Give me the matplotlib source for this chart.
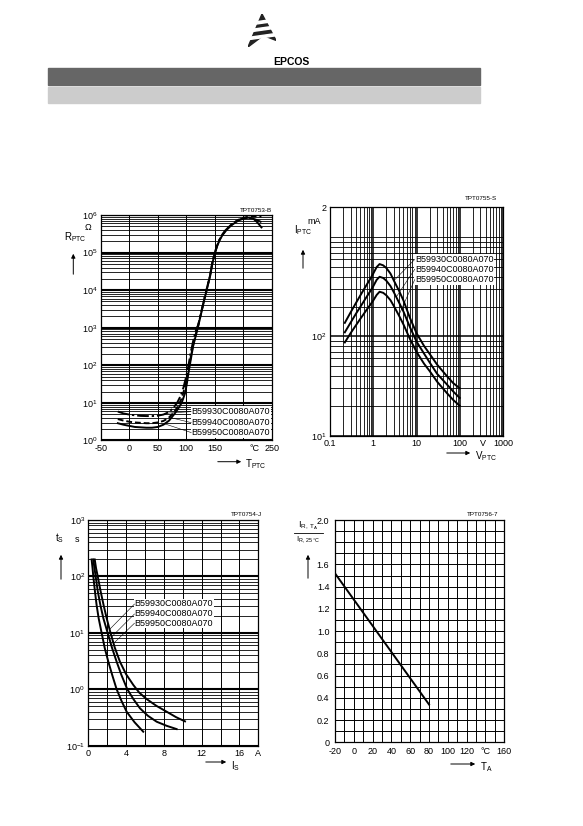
import numpy as np
import matplotlib
matplotlib.use("Agg")
import matplotlib.pyplot as plt
from matplotlib.ticker import FixedLocator, NullFormatter
from matplotlib.patches import Rectangle, Polygon, FancyArrowPatch
from matplotlib.lines import Line2D

plt.rcParams['font.family'] = ['Liberation Sans', 'DejaVu Sans']
plt.rcParams['mathtext.default'] = 'regular'
plt.rcParams['font.size'] = 6.5

W, H = 583, 826

labels = ["B59930C0080A070", "B59940C0080A070", "B59950C0080A070"]

# R/T characteristic: T in degC, log10(R / ohm)
t_930 = [-20, -10, 0, 10, 20, 30, 40, 50, 60, 70, 78, 84, 90, 95, 100, 104, 108,
         113, 118, 121, 132, 142, 146, 150, 154, 158, 163, 170, 178, 186, 194,
         202, 210, 218, 225, 232]
lr_930 = [0.77, 0.72, 0.69, 0.67, 0.655, 0.65, 0.65, 0.66, 0.69, 0.76, 0.88, 1.0,
          1.18, 1.4, 1.7, 2.0, 2.35, 2.7, 2.98, 3.07, 3.78, 4.4, 4.74, 4.98, 5.18,
          5.33, 5.47, 5.61, 5.73, 5.82, 5.88, 5.92, 5.93, 5.9, 5.86, 5.81]
t_940 = [-20, -10, 0, 10, 20, 30, 40, 50, 60, 69, 78, 86, 92, 97, 101, 105, 109,
         113, 118, 121, 132, 142, 146, 150, 154, 158, 163, 170, 178, 186, 194,
         202, 210, 218, 225, 232]
lr_940 = [0.57, 0.53, 0.5, 0.48, 0.47, 0.46, 0.46, 0.48, 0.52, 0.6, 0.74, 0.92,
          1.12, 1.38, 1.68, 1.98, 2.3, 2.6, 2.9, 3.06, 3.78, 4.4, 4.74, 4.98, 5.18,
          5.33, 5.47, 5.61, 5.73, 5.82, 5.89, 5.93, 5.96, 5.97, 5.97, 5.96]
t_950 = [-20, -10, 0, 10, 20, 30, 40, 50, 60, 70, 80, 86, 92, 98, 101, 104, 112,
         121, 132, 142, 146, 150, 154, 158, 163, 170, 178, 186, 194, 202, 210,
         218, 225, 232]
lr_950 = [0.46, 0.42, 0.39, 0.36, 0.35, 0.34, 0.34, 0.36, 0.42, 0.53, 0.72, 0.85,
          1.0, 1.26, 1.5, 1.8, 2.5, 3.04, 3.76, 4.38, 4.72, 4.96, 5.16, 5.31, 5.45,
          5.59, 5.71, 5.8, 5.87, 5.91, 5.93, 5.9, 5.8, 5.67]

# I/V characteristic (V, mA)
v_pts = [0.22, 0.3, 0.4, 0.5, 0.7, 0.85, 1.0, 1.2, 1.4, 1.7, 2.0, 2.5, 3, 4, 5,
         7, 10, 15, 20, 30, 50, 70, 100]
i_top = [137, 175, 218, 258, 330, 380, 430, 500, 536, 520, 490, 430, 365, 285,
         230, 155, 108, 80, 67, 52, 40, 34, 30]
i_mid = [110, 138, 170, 198, 250, 285, 320, 372, 399, 388, 365, 322, 278, 217,
         178, 125, 89, 67, 55, 42, 33, 28, 24]
i_bot = [87, 108, 130, 150, 185, 208, 230, 262, 282, 275, 260, 232, 202, 160,
         132, 95, 70, 53, 45, 35, 27, 23, 20]

# switching time (A, s)
is_left = [0.35, 0.45, 0.53, 0.7, 0.88, 1.1, 1.41, 1.75, 2.12, 2.55, 3.0, 3.5,
           4.06, 4.9, 5.82]
ts_left = [200, 140, 100, 55, 31, 18, 10, 5.3, 3.08, 1.75, 1.0, 0.63, 0.40,
           0.26, 0.177]
is_mid = [0.53, 0.65, 0.78, 1.0, 1.28, 1.6, 2.05, 2.5, 3.0, 3.5, 4.13, 4.8,
          5.47, 6.3, 7.24, 8.3, 9.35]
ts_mid = [200, 140, 100, 55, 31, 18, 10, 5.5, 3.08, 1.8, 1.0, 0.66, 0.46, 0.34,
          0.266, 0.225, 0.197]
is_right = [0.68, 0.82, 1.0, 1.3, 1.62, 1.95, 2.35, 2.8, 3.35, 4.0, 4.77, 5.4,
            6.18, 7.2, 8.3, 9.3, 10.24]
ts_right = [200, 140, 100, 55, 31, 18, 10, 5.5, 3.08, 1.85, 1.19, 0.87, 0.67,
            0.51, 0.40, 0.32, 0.27]

# rated current derating
ta = [-20, 80]
ir_ratio = [1.52, 0.34]


fig = plt.figure(figsize=(W / 100, H / 100), dpi=100)


def box(l, t, r, b):
    return [l / W, 1 - b / H, (r - l) / W, (b - t) / H]


def ftext(x, y, s, **kw):
    kw.setdefault('va', 'center')
    fig.text(x / W, 1 - y / H, s, **kw)


def farrow(x0, y0, x1, y1):
    fig.add_artist(FancyArrowPatch((x0 / W, 1 - y0 / H), (x1 / W, 1 - y1 / H),
                                   transform=fig.transFigure, arrowstyle='-|>',
                                   mutation_scale=6, lw=0.7, color='k'))


def log_minor(lo, hi):
    vals = []
    for d in range(int(np.floor(np.log10(lo))), int(np.ceil(np.log10(hi))) + 1):
        for m in range(1, 10):
            v = m * 10.0 ** d
            if lo < v < hi:
                vals.append(v)
    return vals


def style(ax):
    for s in ax.spines.values():
        s.set_linewidth(0.9)
    ax.tick_params(which='both', length=0, pad=2.5, labelsize=6.5)
    ax.set_axisbelow(True)


def xtick_text(ax, x, s):
    # extra text in the row of the x tick labels
    ax.annotate(s, xy=(x, 0), xycoords=ax.get_xaxis_transform(),
                xytext=(0, -2.5), textcoords='offset points',
                ha='center', va='top', fontsize=6.5)


def leader(ax, xy, xytext):
    ax.annotate('', xy=xy, xytext=xytext, textcoords='axes fraction',
                arrowprops=dict(arrowstyle='-', lw=0.4, color='k',
                                shrinkA=0, shrinkB=0))


# header
fig.patches.append(Rectangle((48 / W, 1 - 85 / H), 432 / W, 17 / H,
                             transform=fig.transFigure, color='#666666'))
fig.patches.append(Rectangle((48 / W, 1 - 103 / H), 432 / W, 16 / H,
                             transform=fig.transFigure, color='#cccccc'))
lax = fig.add_axes(box(248, 14, 276, 47))
lax.set_xlim(0, 1)
lax.set_ylim(0, 1)
lax.axis('off')
lax.add_patch(Polygon([[0.0, 0.0], [0.5, 1.0], [1.0, 0.2], [0.55, 0.35]],
                      closed=True, color='#222222'))
for y0 in [0.22, 0.45, 0.66]:
    lax.add_patch(Polygon([[0.0, y0], [1.0, y0 + 0.12], [1.0, y0 + 0.19],
                           [0.0, y0 + 0.07]], closed=True, color='white'))
ftext(291, 62, "EPCOS", ha='center', fontsize=7.5, fontweight='bold')

# ---- chart 1: R/T ----
ax1 = fig.add_axes(box(100.7, 215, 271.7, 440.5))
style(ax1)
ax1.set_yscale('log')
ax1.set_xlim(-50, 250)
ax1.set_ylim(1, 1e6)
r_930 = 10 ** np.array(lr_930)
r_940 = 10 ** np.array(lr_940)
r_950 = 10 ** np.array(lr_950)
ax1.plot(t_930, r_930, color='k', lw=1.4, ls=(0, (6, 1.5, 1.2, 1.5)))
ax1.plot(t_940, r_940, color='k', lw=1.4, ls=(0, (3, 1.5)))
ax1.plot(t_950, r_950, color='k', lw=1.4)
ax1.xaxis.set_major_locator(FixedLocator([-50, 0, 50, 100, 150, 200, 250]))
ax1.set_xticklabels(['-50', '0', '50', '100', '150', '', '250'])
ax1.yaxis.set_major_locator(FixedLocator([10.0 ** k for k in range(7)]))
ax1.set_yticklabels(['$10^{%d}$' % k for k in range(7)])
ax1.yaxis.set_minor_locator(FixedLocator(log_minor(1, 1e6)))
ax1.yaxis.set_minor_formatter(NullFormatter())
ax1.xaxis.grid(True, which='major', color='k', lw=0.7)
ax1.yaxis.grid(True, which='major', color='k', lw=1.5)
ax1.yaxis.grid(True, which='minor', color='k', lw=0.6)
xtick_text(ax1, 220, '°C')
for lab, yf in zip(labels, [0.128, 0.079, 0.035]):
    ax1.text(0.53, yf, lab, transform=ax1.transAxes, va='center', fontsize=6.5,
             bbox=dict(facecolor='white', edgecolor='none', pad=0.6))
leader(ax1, (65, np.interp(65, t_930, r_930)), (0.53, 0.128))
leader(ax1, (70, np.interp(70, t_940, r_940)), (0.53, 0.079))
leader(ax1, (62, np.interp(62, t_950, r_950)), (0.53, 0.035))
ftext(271.7, 211, "TPT0753-B", ha='right', fontsize=4.5)
ftext(88, 228, "Ω", ha='center', fontsize=6.5)
ftext(64, 237, "R$_{PTC}$", ha='left', fontsize=7)
farrow(73.3, 277, 73.3, 251)
farrow(215, 461.7, 244, 461.7)
ftext(245, 464, "T$_{PTC}$", ha='left', fontsize=7)

# ---- chart 2: I/V ----
ax2 = fig.add_axes(box(330, 207.3, 503, 435.7))
style(ax2)
ax2.set_xscale('log')
ax2.set_yscale('log')
ax2.set_xlim(0.1, 1000)
ax2.set_ylim(10, 2000)
for iv in (i_top, i_mid, i_bot):
    ax2.plot(v_pts, iv, color='k', lw=1.4)
ax2.xaxis.set_major_locator(FixedLocator([0.1, 1, 10, 100, 1000]))
ax2.set_xticklabels(['0.1', '1', '10', '100', '1000'])
ax2.xaxis.set_minor_locator(FixedLocator(log_minor(0.1, 1000)))
ax2.xaxis.set_minor_formatter(NullFormatter())
ax2.yaxis.set_major_locator(FixedLocator([10, 100, 2000]))
ax2.set_yticklabels(['$10^{1}$', '$10^{2}$', '2'])
ax2.yaxis.set_minor_locator(FixedLocator(log_minor(10, 2000)))
ax2.yaxis.set_minor_formatter(NullFormatter())
ax2.grid(True, which='major', color='k', lw=1.1)
ax2.grid(True, which='minor', color='k', lw=0.6)
xtick_text(ax2, 340, 'V')
for lab, yf in zip(labels, [0.772, 0.729, 0.684]):
    ax2.text(0.49, yf, lab, transform=ax2.transAxes, va='center', fontsize=6.5,
             bbox=dict(facecolor='white', edgecolor='none', pad=0.6))
for iv, vv, yf in zip((i_top, i_mid, i_bot), (3.0, 3.4, 3.9), (0.772, 0.729, 0.684)):
    yy = 10 ** np.interp(np.log10(vv), np.log10(v_pts), np.log10(iv))
    leader(ax2, (vv, yy), (0.49, yf))
ftext(497, 199, "TPT0755-S", ha='right', fontsize=4.5)
ftext(314, 221, "mA", ha='center', fontsize=6.5)
ftext(294, 230, "I$_{PTC}$", ha='left', fontsize=7)
farrow(303, 271, 303, 247)
farrow(444, 453, 473, 453)
ftext(475, 456, "V$_{PTC}$", ha='left', fontsize=7)

# ---- chart 3: switching time ----
ax3 = fig.add_axes(box(88.3, 520, 258.3, 745.7))
style(ax3)
ax3.set_yscale('log')
ax3.set_xlim(0, 18)
ax3.set_ylim(0.1, 1000)
for xs, ys in ((is_left, ts_left), (is_mid, ts_mid), (is_right, ts_right)):
    ax3.plot(xs, ys, color='k', lw=1.4)
ax3.xaxis.set_major_locator(FixedLocator([0, 4, 8, 12, 16, 18]))
ax3.set_xticklabels(['0', '4', '8', '12', '16', 'A'])
ax3.xaxis.set_minor_locator(FixedLocator([2, 6, 10, 14]))
ax3.yaxis.set_major_locator(FixedLocator([0.1, 1, 10, 100, 1000]))
ax3.set_yticklabels(['$10^{-1}$', '$10^{0}$', '$10^{1}$', '$10^{2}$', '$10^{3}$'])
ax3.yaxis.set_minor_locator(FixedLocator(log_minor(0.1, 1000)))
ax3.yaxis.set_minor_formatter(NullFormatter())
ax3.xaxis.grid(True, which='both', color='k', lw=0.7)
ax3.yaxis.grid(True, which='major', color='k', lw=1.5)
ax3.yaxis.grid(True, which='minor', color='k', lw=0.6)
for lab, yf in zip(labels, [0.628, 0.584, 0.543]):
    ax3.text(0.272, yf, lab, transform=ax3.transAxes, va='center', fontsize=6.5,
             bbox=dict(facecolor='white', edgecolor='none', pad=0.6))
for tt, yf in zip((11.5, 8.5, 6.5), (0.628, 0.584, 0.543)):
    xx = np.interp(np.log10(tt), np.log10(ts_right[::-1]), is_right[::-1])
    leader(ax3, (xx, tt), (0.272, yf))
ftext(262, 515, "TPT0754-J", ha='right', fontsize=4.5)
ftext(77, 540, "s", ha='center', fontsize=6.5)
ftext(55, 538, "t$_{S}$", ha='left', fontsize=7)
farrow(61, 582, 61, 552)
farrow(203, 762, 229, 762)
ftext(231, 766, "I$_{S}$", ha='left', fontsize=7)

# ---- chart 4: derating ----
ax4 = fig.add_axes(box(335, 520, 504.3, 742.3))
style(ax4)
ax4.tick_params(axis='y', pad=4)
ax4.tick_params(axis='x', pad=3.5)
ax4.set_xlim(-20, 160)
ax4.set_ylim(0, 2.0)
ax4.plot(ta, ir_ratio, color='k', lw=1.4)
xt = list(range(-20, 161, 20))
ax4.xaxis.set_major_locator(FixedLocator(xt))
ax4.set_xticklabels(['°C' if v == 140 else str(v) for v in xt])
ax4.xaxis.set_minor_locator(FixedLocator(list(range(-10, 160, 20))))
yt = [round(0.2 * k, 1) for k in range(11)]
ax4.yaxis.set_major_locator(FixedLocator(yt))
ax4.set_yticklabels(['0' if v == 0 else ('' if v == 1.8 else '%.1f' % v) for v in yt])
ax4.yaxis.set_minor_locator(FixedLocator([round(0.1 + 0.2 * k, 1) for k in range(10)]))
ax4.grid(True, which='both', color='k', lw=0.7)
ftext(498, 515, "TPT0756-7", ha='right', fontsize=4.5)
ftext(308, 526, "I$_{R,\\,T_A}$", ha='center', fontsize=6.5)
ftext(308, 540, "I$_{R,\\,25\\,°C}$", ha='center', fontsize=5.5)
fig.add_artist(Line2D([294 / W, 323 / W], [1 - 533 / H, 1 - 533 / H],
                      transform=fig.transFigure, color='k', lw=0.6))
farrow(308, 581, 308, 552)
farrow(448, 764, 478, 764)
ftext(480, 767, "T$_{A}$", ha='left', fontsize=7)

fig.savefig("out.png", dpi=100)
